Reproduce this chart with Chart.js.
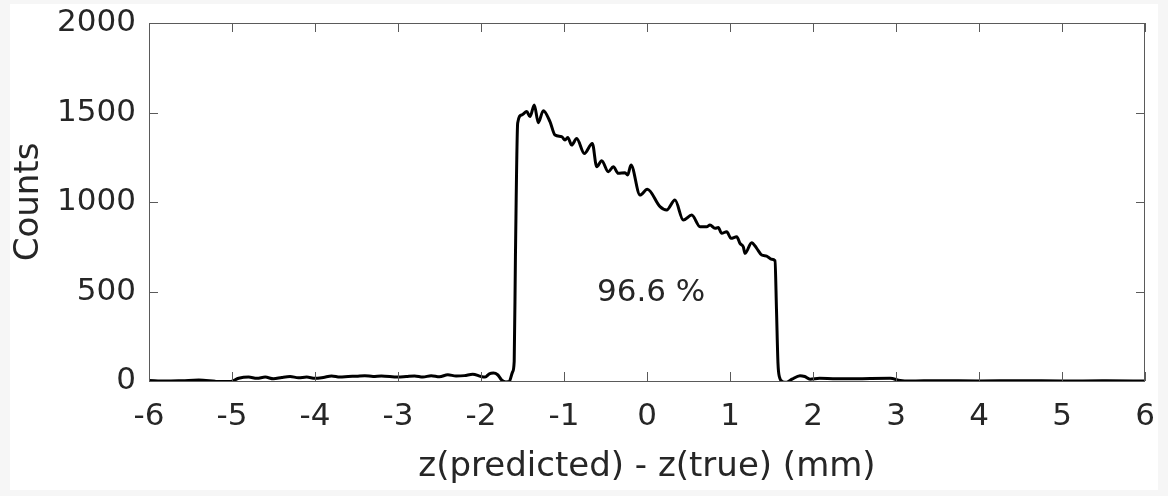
<!DOCTYPE html>
<html>
<head>
<meta charset="utf-8">
<script src="https://cdn.jsdelivr.net/npm/chart.js@4.4.1/dist/chart.umd.min.js"></script>
<style>
  html, body { margin: 0; padding: 0; background: #fff; }
  #wrap { width: 1168px; height: 496px; }
</style>
</head>
<body>
<div id="wrap"><canvas id="histChart" width="1168" height="496"></canvas></div>
<script>
// z(predicted) - z(true) in mm
const zDiff = [
  -6.0, -5.8, -5.6, -5.4, -5.2, -5.02, -4.92, -4.8, -4.7, -4.6, -4.5, -4.4, -4.3, -4.2, -4.1, -4.0,
  -3.9, -3.8, -3.7, -3.6, -3.5, -3.4, -3.3, -3.2, -3.0, -2.9, -2.8, -2.7, -2.6, -2.5, -2.4, -2.3,
  -2.2, -2.1, -2.0, -1.95, -1.9, -1.85, -1.8, -1.75, -1.7, -1.66, -1.62, -1.6, -1.585, -1.558,
  -1.51, -1.449, -1.41, -1.358, -1.31, -1.249, -1.169, -1.108, -1.028, -0.988, -0.955, -0.907,
  -0.847, -0.755, -0.659, -0.606, -0.546, -0.466, -0.406, -0.346, -0.265, -0.233, -0.193, -0.084,
  0.004, 0.157, 0.237, 0.337, 0.437, 0.539, 0.639, 0.719, 0.759, 0.819, 0.859, 0.9, 0.96, 1.012,
  1.081, 1.12, 1.16, 1.181, 1.261, 1.322, 1.382, 1.442, 1.502, 1.542, 1.56, 1.578, 1.594, 1.639,
  1.683, 1.747, 1.843, 1.9, 1.964, 2.08, 2.24, 2.45, 2.69, 2.93, 3.05, 3.17, 3.5, 4.0, 4.5, 5.0,
  5.5, 6.0
];
const counts = [
  3, 0, 2, 5, -2, -3, 15, 22, 15, 22, 12, 20, 25, 18, 22, 15,
  20, 28, 22, 25, 27, 30, 25, 28, 22, 25, 28, 22, 30, 24, 35, 28,
  30, 38, 25, 22, 40, 44, 35, 5, -5, -3, 50, 110, 700, 1441,
  1486, 1505, 1477, 1542, 1443, 1510, 1449, 1374, 1365, 1346, 1361, 1318,
  1355, 1271, 1327, 1197, 1231, 1169, 1197, 1160, 1164, 1151, 1207, 1039,
  1071, 974, 955, 1011, 899, 927, 862, 862, 872, 853, 857, 825, 834, 797,
  806, 769, 750, 713, 773, 741, 704, 698, 680, 672, 400, 100, 25, -5,
  -7, 10, 30, 25, 10, 15, 13, 12, 14, 15, 3, 0, 2, 0, 2, 0,
  1, 0
];
const xTicks = [-6, -5, -4, -3, -2, -1, 0, 1, 2, 3, 4, 5, 6];
const yTicks = [0, 500, 1000, 1500, 2000];
const fractionLabel = '96.6 %';
const fractionAt = [0.05, 490];

const family = 'DejaVu Sans, Arial, sans-serif';
const tickFont = { family: family, size: 31 };
const titleFont = { family: family, size: 34 };
const textColor = '#262626';

// white page with faint grey edge, like the scanned figure
const pageBg = {
  id: 'pageBg',
  beforeDraw(chart) {
    const c = chart.ctx;
    c.save();
    c.fillStyle = '#f6f6f6';
    c.fillRect(0, 0, chart.width, chart.height);
    c.fillStyle = '#ffffff';
    c.fillRect(10, 4, chart.width - 20, chart.height - 10);
    c.restore();
  }
};

// MATLAB style box with inward ticks on all four sides
const boxTicks = {
  id: 'boxTicks',
  afterDatasetsDraw(chart) {
    const { ctx, chartArea: a, scales } = chart;
    ctx.save();
    ctx.strokeStyle = '#5a5a5a';
    ctx.lineWidth = 1;
    ctx.strokeRect(a.left + 0.5, a.top + 0.5, a.right - a.left - 1, a.bottom - a.top);
    const len = 9;
    ctx.beginPath();
    xTicks.forEach(v => {
      const px = Math.round(scales.x.getPixelForValue(v)) + 0.5;
      ctx.moveTo(px, a.bottom); ctx.lineTo(px, a.bottom - len);
      ctx.moveTo(px, a.top); ctx.lineTo(px, a.top + len);
    });
    yTicks.forEach(v => {
      const py = Math.round(scales.y.getPixelForValue(v)) + 0.5;
      ctx.moveTo(a.left, py); ctx.lineTo(a.left + len, py);
      ctx.moveTo(a.right, py); ctx.lineTo(a.right - len, py);
    });
    ctx.stroke();

    ctx.fillStyle = textColor;
    ctx.font = '31px ' + family;
    ctx.textAlign = 'center';
    ctx.textBaseline = 'middle';
    ctx.fillText(fractionLabel,
      scales.x.getPixelForValue(fractionAt[0]),
      scales.y.getPixelForValue(fractionAt[1]));
    ctx.restore();
  }
};

new Chart(document.getElementById('histChart').getContext('2d'), {
  type: 'line',
  data: {
    datasets: [{
      data: zDiff.map((z, i) => ({ x: z, y: counts[i] })),
      borderColor: '#000',
      borderWidth: 3,
      pointRadius: 0,
      cubicInterpolationMode: 'monotone',
      fill: false
    }]
  },
  options: {
    responsive: false,
    animation: false,
    layout: { padding: { left: 0, top: 23, right: 23, bottom: 0 } },
    plugins: { legend: { display: false }, tooltip: { enabled: false } },
    scales: {
      x: {
        type: 'linear',
        min: -6, max: 6,
        afterBuildTicks: s => { s.ticks = xTicks.map(v => ({ value: v })); },
        afterFit: s => { s.height = 115; s.paddingLeft = 0; s.paddingRight = 0; },
        grid: { display: false, drawTicks: false },
        border: { display: false },
        ticks: { color: textColor, font: tickFont, padding: 17, maxRotation: 0 },
        title: {
          display: true, text: 'z(predicted) - z(true) (mm)',
          color: textColor, font: titleFont, padding: { top: 4, bottom: 8 }
        }
      },
      y: {
        min: 0, max: 2000,
        afterBuildTicks: s => { s.ticks = yTicks.map(v => ({ value: v })); },
        afterFit: s => { s.width = 149; s.paddingTop = 0; s.paddingBottom = 0; },
        grid: { display: false, drawTicks: false },
        border: { display: false },
        ticks: { color: textColor, font: tickFont, padding: 13, callback: v => String(v) },
        title: {
          display: true, text: 'Counts',
          color: textColor, font: titleFont, padding: { top: 9, bottom: 0 }
        }
      }
    }
  },
  plugins: [pageBg, boxTicks]
});
</script>
</body>
</html>
